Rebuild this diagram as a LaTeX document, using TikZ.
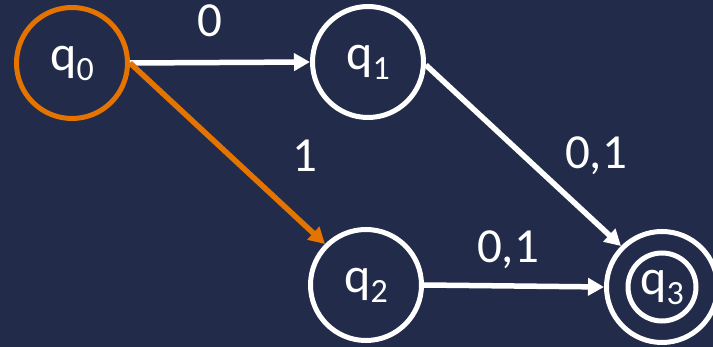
\documentclass[tikz,border=0pt]{standalone}
\usepackage{fontspec}
\setmainfont{Carlito}
\usetikzlibrary{arrows.meta}
\definecolor{navy}{HTML}{222C4A}
\definecolor{accent}{HTML}{E57300}
\newcommand{\st}[2]{#1\raisebox{-10pt}{\fontsize{34}{34}\selectfont #2}}
\begin{document}
\begin{tikzpicture}[x=1pt,y=-1pt,
  state/.style={circle,draw=white,line width=5pt,minimum size=111pt,inner sep=0pt,
    text=white,font=\fontsize{50}{50}\selectfont},
  edge/.style={draw=white,line width=5.5pt,-{Triangle[length=16pt,width=17pt]}},
  lbl/.style={text=white,anchor=base,inner sep=0pt,font=\fontsize{49}{49}\selectfont}]
  \fill[navy] (0,0) rectangle (713,347);
  \useasboundingbox (0,0) rectangle (713,347);
  % states
  \node[state,draw=accent] (q0) at (72,63) {\st{q}{0}};
  \node[state] (q1) at (368,62) {\st{q}{1}};
  \node[state] (q2) at (366,285) {\st{q}{2}};
  \node[state] (q3) at (662,287) {\st{q}{3}};
  \draw[white,line width=5pt] (q3.center) circle (34);
  % transitions
  \draw[edge] (q0.east) -- (q1.west);
  \draw[edge,draw=accent,accent] (q0.east) -- (q2.135);
  \draw[edge] (q1.-3) -- (q3.135);
  \draw[edge] (q2.east) -- (q3.west);
  % labels
  \node[lbl] (l01) at (210,37) {0};
  \node[lbl] (l02) at (305,172) {1};
  \node[lbl] (l13) at (596,169) {0,1};
  \node[lbl] (l23) at (508,263) {0,1};
\end{tikzpicture}
\end{document}
